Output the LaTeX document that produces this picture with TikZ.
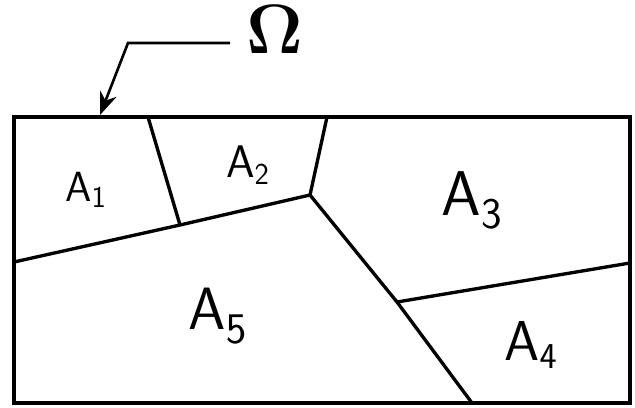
\documentclass[tikz,border=0pt]{standalone}
\usetikzlibrary{arrows.meta}
\tikzset{
  cut/.style={line width=1.9pt},
  lab/.style={font=\sffamily\fontsize{#1}{#1}\selectfont, inner sep=0pt}
}
\begin{document}
\begin{tikzpicture}[x=0.02cm, y=-0.02cm]
\useasboundingbox (0,0) rectangle (635,408);
% domain
\draw[cut] (14,117) rectangle (630,403);
% corners of the pieces
\coordinate (T1) at (148,117);
\coordinate (T2) at (327,117);
\coordinate (W) at (14,262);
\coordinate (K) at (180,225);
\coordinate (J) at (310,195);
\coordinate (L) at (397,302);
\coordinate (R) at (630,263);
\coordinate (B) at (472,403);
\draw[cut] (T1) -- (K);
\draw[cut] (W) -- (K) -- (J);
\draw[cut] (T2) -- (J) -- (L) -- (B);
\draw[cut] (L) -- (R);
% labels
\node[lab=24] (a1) at (86,190) {A$_{\mathsf{1}}$};
\node[lab=26] (a2) at (248,165) {A$_{\mathsf{2}}$};
\node[lab=36] (a3) at (472,200) {A$_{\mathsf{3}}$};
\node[lab=32] (a4) at (531,345) {A$_{\mathsf{4}}$};
\node[lab=34] (a5) at (218,316) {A$_{\mathsf{5}}$};
% boundary
\node[font=\Huge, scale=1.6, inner sep=0pt] (omega) at (275,30) {$\mathbf{\Omega}$};
\coordinate (start) at (230,43);
\coordinate (bend) at (128,43);
\coordinate (tip) at (100,115);
\draw[line width=1.5pt, -{Stealth[length=13pt,width=10pt]}] (start) -- (bend) -- (tip);
\end{tikzpicture}
\end{document}
